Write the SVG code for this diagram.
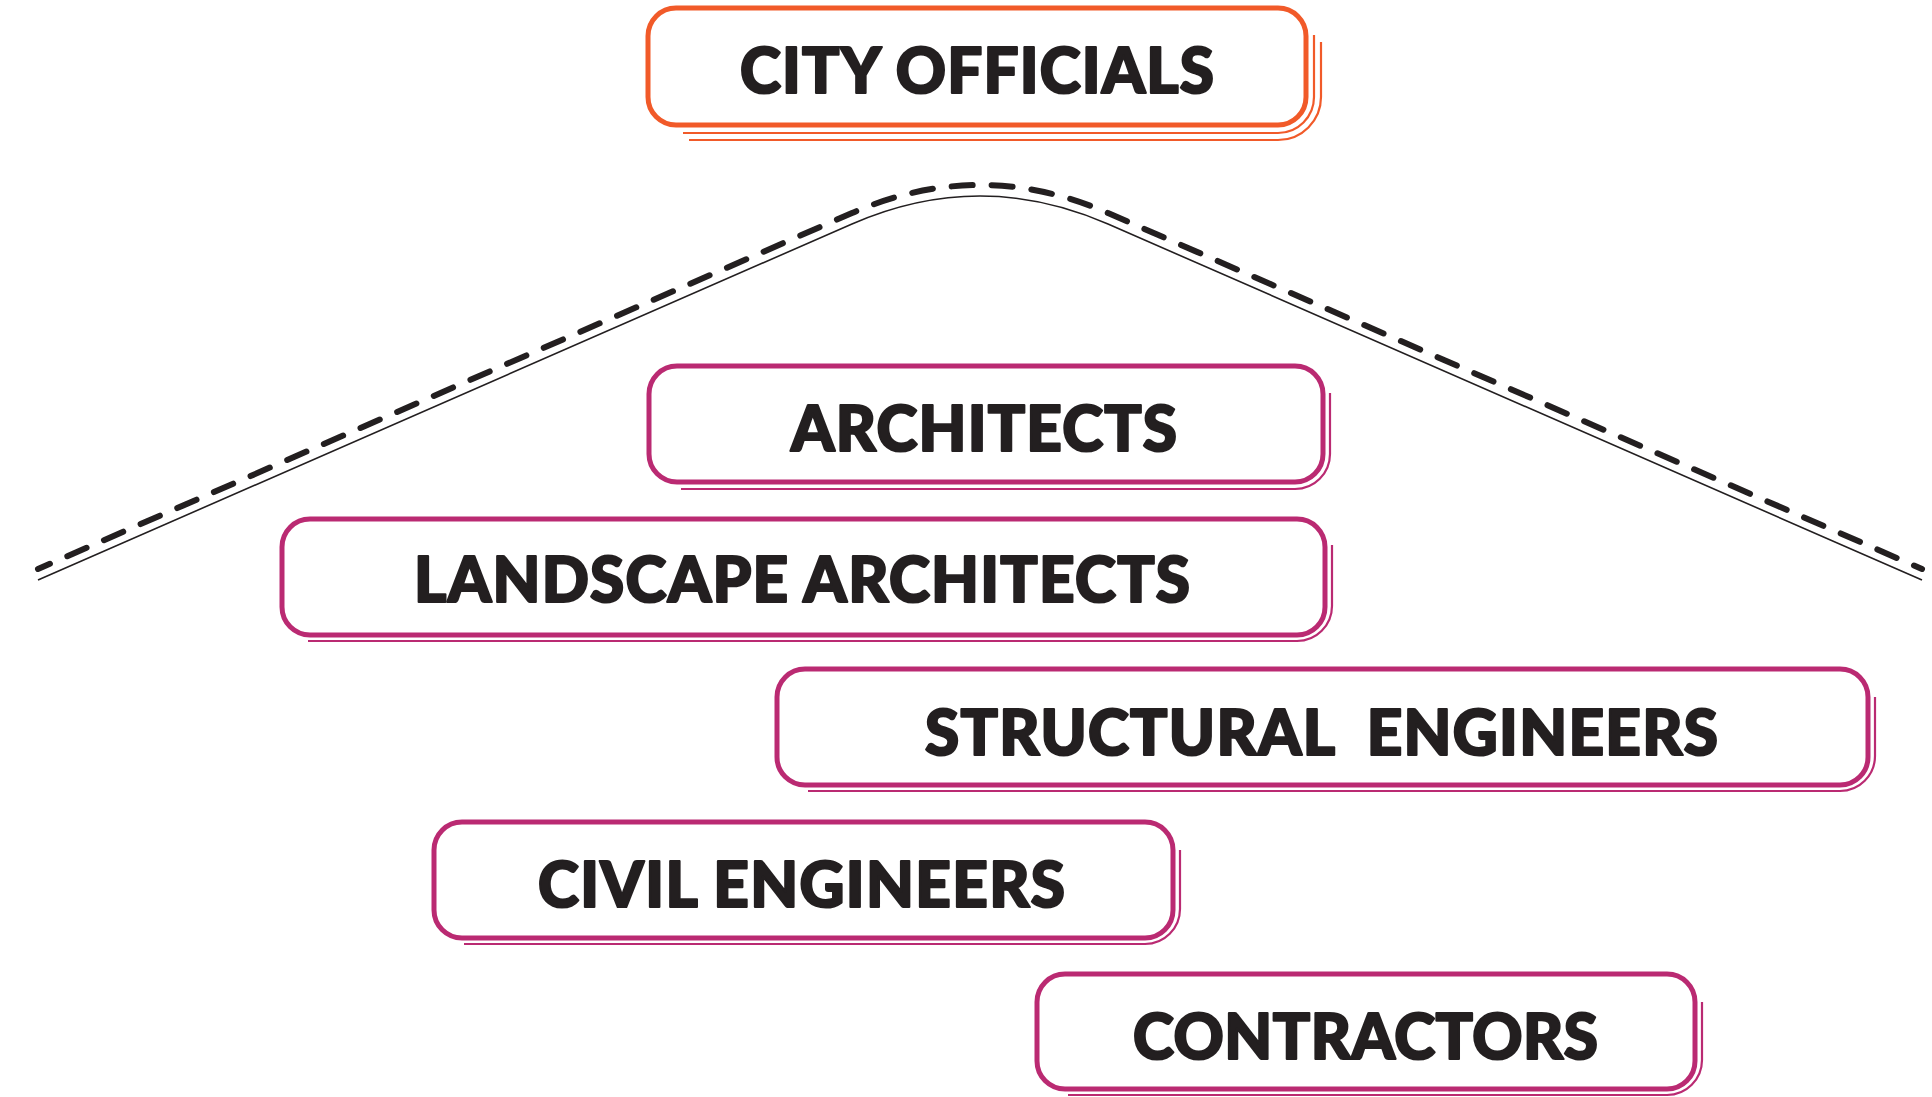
<svg xmlns="http://www.w3.org/2000/svg" width="1932" height="1097" viewBox="0 0 1932 1097">
<style>
.box{fill:#fff;stroke-width:5}
.org{stroke:#F15A29}
.mag{stroke:#BA2A72}
.sh{fill:none;stroke-width:2.2}
.lbl{font-family:Lato,"Liberation Sans",Arial,sans-serif;font-weight:900;font-size:62px;fill:#231F20;stroke:#231F20;stroke-width:2.2;stroke-linejoin:round}
</style>
<rect width="1932" height="1097" fill="#fff"/>
<g id="connectors">
<path d="M 38 569 L 852 213 Q 980 157 1108 213 L 1922 569" fill="none" stroke="#231F20" stroke-width="6" stroke-linecap="round" stroke-dasharray="21 19" stroke-dashoffset="8"/>
<path d="M 38 580 L 852 224 Q 980 168 1108 224 L 1922 580" fill="none" stroke="#231F20" stroke-width="1.6"/>
</g>
<g id="city-officials">
<path class="sh org" d="M 683 133 H 1278 A 36 36 0 0 0 1314 97 V 35"/>
<path class="sh org" d="M 689 140 H 1278 A 43 43 0 0 0 1321 97 V 42"/>
<rect class="box org" x="648" y="8" width="658" height="117" rx="28"/>
<text class="lbl" x="740" y="93" textLength="474">CITY OFFICIALS</text>
</g>
<g id="architects">
<path class="sh mag" d="M 681 489 H 1295 A 35 35 0 0 0 1330 454 V 393"/>
<rect class="box mag" x="649" y="366" width="674" height="116" rx="28"/>
<text class="lbl" x="791" y="451" textLength="386">ARCHITECTS</text>
</g>
<g id="landscape-architects">
<path class="sh mag" d="M 308 641 H 1297 A 35 35 0 0 0 1332 606 V 545"/>
<rect class="box mag" x="282" y="519" width="1043" height="116" rx="28"/>
<text class="lbl" x="414" y="602" textLength="776">LANDSCAPE ARCHITECTS</text>
</g>
<g id="structural-engineers">
<path class="sh mag" d="M 808 791 H 1840 A 35 35 0 0 0 1875 756 V 697"/>
<rect class="box mag" x="777" y="669" width="1091" height="116" rx="28"/>
<text class="lbl" x="925" y="755" textLength="793" xml:space="preserve">STRUCTURAL  ENGINEERS</text>
</g>
<g id="civil-engineers">
<path class="sh mag" d="M 464 944 H 1145 A 35 35 0 0 0 1180 909 V 850"/>
<rect class="box mag" x="434" y="822" width="739" height="116" rx="28"/>
<text class="lbl" x="538" y="907" textLength="527">CIVIL ENGINEERS</text>
</g>
<g id="contractors">
<path class="sh mag" d="M 1068 1095 H 1667 A 35 35 0 0 0 1702 1060 V 1002"/>
<rect class="box mag" x="1037" y="974" width="658" height="115" rx="28"/>
<text class="lbl" x="1133" y="1059" textLength="465">CONTRACTORS</text>
</g>
</svg>
